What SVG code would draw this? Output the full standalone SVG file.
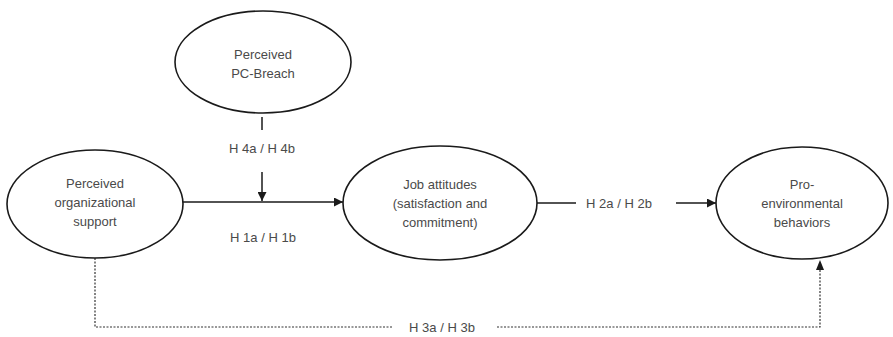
<svg xmlns="http://www.w3.org/2000/svg" width="893" height="337" viewBox="0 0 893 337">
<defs>
<style>
.n{fill:#fff;stroke:#1a1a1a;stroke-width:1.6}
.t{font-family:"Liberation Sans",Arial,sans-serif;font-size:13px;fill:#4a4a4a;text-anchor:middle}
.c{fill:none;stroke:#1a1a1a;stroke-width:1.5}
.d{fill:none;stroke:#333;stroke-width:1.2;stroke-dasharray:2 1.5}
</style>
<marker id="ah2" viewBox="0 0 10 10" refX="10" refY="5" markerWidth="9" markerHeight="9" markerUnits="userSpaceOnUse" orient="auto">
<path d="M0,0 L10,5 L0,10 z" fill="#1a1a1a"/>
</marker>
</defs>
<rect width="893" height="337" fill="#fff"/>
<g id="connectors">
<line class="c" x1="262" y1="117" x2="262" y2="130"/>
<line class="c" x1="262" y1="172" x2="262" y2="201" marker-end="url(#ah2)"/>
<line class="c" x1="182" y1="202" x2="343" y2="202" marker-end="url(#ah2)"/>
<line class="c" x1="537" y1="203" x2="576" y2="203"/>
<line class="c" x1="676" y1="203" x2="716" y2="203" marker-end="url(#ah2)"/>
<polyline class="d" points="95,258 95,327 392,327"/>
<polyline class="d" points="497,327 820,327 820,262"/>
<path d="M816,270 L820,260 L824,270 z" fill="#1a1a1a"/>
<text class="t" x="262" y="153">H 4a / H 4b</text>
<text class="t" x="263" y="242">H 1a / H 1b</text>
<text class="t" x="619" y="208">H 2a / H 2b</text>
<text class="t" x="442" y="332">H 3a / H 3b</text>
</g>
<g id="pc-breach">
<ellipse class="n" cx="263" cy="62" rx="88" ry="51"/>
<text class="t" x="263" y="59">Perceived</text>
<text class="t" x="263" y="78">PC-Breach</text>
</g>
<g id="pos">
<ellipse class="n" cx="95" cy="204" rx="88" ry="54"/>
<text class="t" x="95" y="188">Perceived</text>
<text class="t" x="95" y="207">organizational</text>
<text class="t" x="95" y="226">support</text>
</g>
<g id="job-attitudes">
<ellipse class="n" cx="440" cy="203" rx="97" ry="57"/>
<text class="t" x="440" y="189">Job attitudes</text>
<text class="t" x="440" y="208">(satisfaction and</text>
<text class="t" x="440" y="227">commitment)</text>
</g>
<g id="pro-env">
<ellipse class="n" cx="802" cy="203" rx="86" ry="56"/>
<text class="t" x="802" y="189">Pro-</text>
<text class="t" x="802" y="208">environmental</text>
<text class="t" x="802" y="227">behaviors</text>
</g>
</svg>
